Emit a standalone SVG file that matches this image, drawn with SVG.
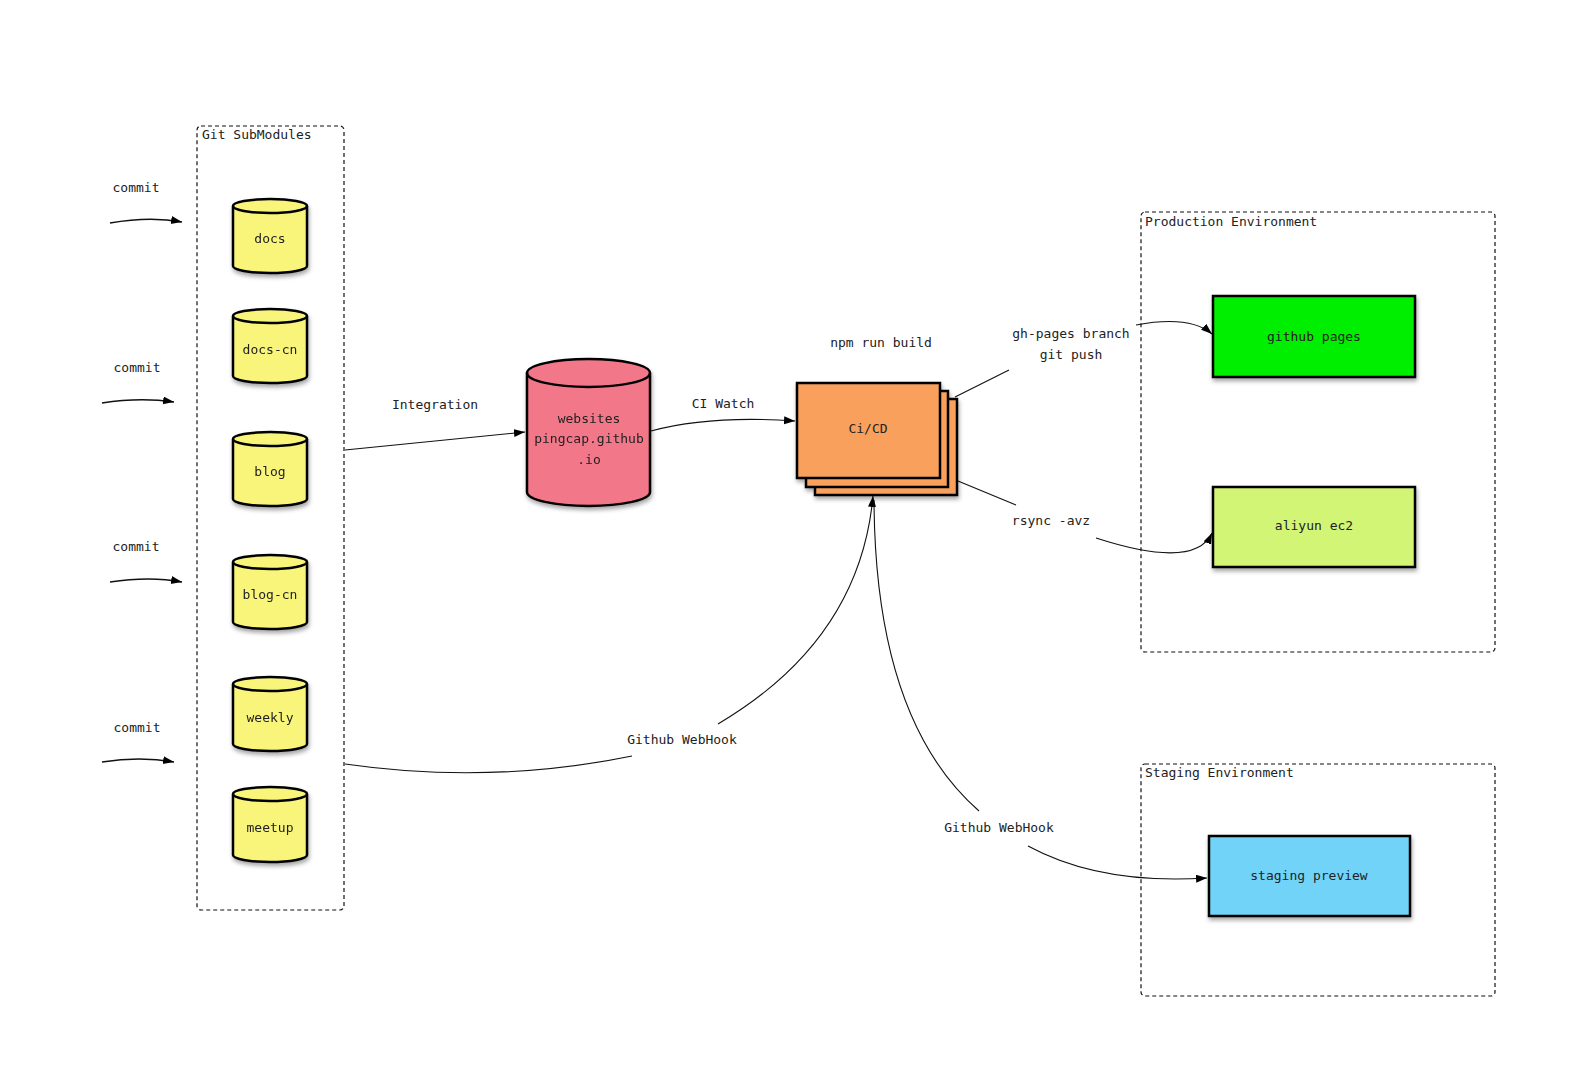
<svg xmlns="http://www.w3.org/2000/svg" width="1573" height="1071" viewBox="0 0 1573 1071">
<style>
text{font-family:"DejaVu Sans Mono","Liberation Mono",monospace;font-size:13px;fill:#222;}
.c{text-anchor:middle;}
.grp{fill:none;stroke:#111;stroke-width:1.2;stroke-dasharray:4 3;}
.cyl{fill:#f8f57a;stroke:#000;stroke-width:2.5;stroke-linejoin:round;}
.arc{fill:none;stroke:#000;stroke-width:2.5;}
.box{stroke:#000;stroke-width:2.5;}
.edge{fill:none;stroke:#111;stroke-width:1.1;}
.arr{marker-end:url(#ah);}
</style>
<defs>
<marker id="ah" markerUnits="userSpaceOnUse" markerWidth="12" markerHeight="10" refX="11" refY="4" orient="auto">
<path d="M0,0 L11,4 L0,8 Z" fill="#000"/>
</marker>
<filter id="sh" x="-20%" y="-20%" width="140%" height="140%">
<feDropShadow dx="1" dy="3" stdDeviation="2" flood-color="#000" flood-opacity="0.35"/>
</filter>
</defs>
<rect width="1573" height="1071" fill="#fff"/>

<g id="git-submodules">
<rect class="grp" x="197" y="126" width="147" height="784" rx="4"/>
<text x="202" y="139">Git SubModules</text>
</g>
<g id="production-env">
<rect class="grp" x="1141" y="212" width="354" height="440" rx="4"/>
<text x="1145" y="226">Production Environment</text>
</g>
<g id="staging-env">
<rect class="grp" x="1141" y="764" width="354" height="232" rx="4"/>
<text x="1145" y="777">Staging Environment</text>
</g>

<g id="docs" filter="url(#sh)">
<path class="cyl" d="M233,206 A37,7 0 0 1 307,206 L307,266 A37,7 0 0 1 233,266 Z"/>
<path class="arc" d="M233,206 A37,7 0 0 0 307,206"/>
<text class="c" x="270" y="243">docs</text>
</g>
<g id="docs-cn" filter="url(#sh)">
<path class="cyl" d="M233,316 A37,7 0 0 1 307,316 L307,376 A37,7 0 0 1 233,376 Z"/>
<path class="arc" d="M233,316 A37,7 0 0 0 307,316"/>
<text class="c" x="270" y="354">docs-cn</text>
</g>
<g id="blog" filter="url(#sh)">
<path class="cyl" d="M233,439 A37,7 0 0 1 307,439 L307,499 A37,7 0 0 1 233,499 Z"/>
<path class="arc" d="M233,439 A37,7 0 0 0 307,439"/>
<text class="c" x="270" y="476">blog</text>
</g>
<g id="blog-cn" filter="url(#sh)">
<path class="cyl" d="M233,562 A37,7 0 0 1 307,562 L307,622 A37,7 0 0 1 233,622 Z"/>
<path class="arc" d="M233,562 A37,7 0 0 0 307,562"/>
<text class="c" x="270" y="599">blog-cn</text>
</g>
<g id="weekly" filter="url(#sh)">
<path class="cyl" d="M233,684 A37,7 0 0 1 307,684 L307,744 A37,7 0 0 1 233,744 Z"/>
<path class="arc" d="M233,684 A37,7 0 0 0 307,684"/>
<text class="c" x="270" y="722">weekly</text>
</g>
<g id="meetup" filter="url(#sh)">
<path class="cyl" d="M233,794 A37,7 0 0 1 307,794 L307,855 A37,7 0 0 1 233,855 Z"/>
<path class="arc" d="M233,794 A37,7 0 0 0 307,794"/>
<text class="c" x="270" y="832">meetup</text>
</g>

<g id="websites" filter="url(#sh)">
<path class="cyl" style="fill:#f27789" d="M527,373 A61.5,14 0 0 1 650,373 L650,492 A61.5,14 0 0 1 527,492 Z"/>
<path class="arc" d="M527,373 A61.5,14 0 0 0 650,373"/>
<text class="c" x="589" y="423">websites</text>
<text class="c" x="589" y="443">pingcap.github</text>
<text class="c" x="589" y="464">.io</text>
</g>

<g id="cicd">
<g filter="url(#sh)">
<rect class="box" fill="#f9a05c" x="815" y="399" width="142" height="96"/>
<rect class="box" fill="#f9a05c" x="806" y="391" width="142" height="96"/>
<rect class="box" fill="#f9a05c" x="797" y="383" width="143" height="95"/>
</g>
<text class="c" x="868" y="433">Ci/CD</text>
<text class="c" x="881" y="347">npm run build</text>
</g>

<g id="github-pages">
<rect class="box" fill="#00ee00" filter="url(#sh)" x="1213" y="296" width="202" height="81"/>
<text class="c" x="1314" y="341">github pages</text>
</g>
<g id="aliyun-ec2">
<rect class="box" fill="#d2f576" filter="url(#sh)" x="1213" y="487" width="202" height="80"/>
<text class="c" x="1314" y="530">aliyun ec2</text>
</g>
<g id="staging-preview">
<rect class="box" fill="#72d3f9" filter="url(#sh)" x="1209" y="836" width="201" height="80"/>
<text class="c" x="1309" y="880">staging preview</text>
</g>

<g id="connectors">
<path class="edge arr" style="stroke-width:1.4" d="M110,223 Q150,216 182,222"/>
<path class="edge arr" style="stroke-width:1.4" d="M102,403 Q140,397 174,402"/>
<path class="edge arr" style="stroke-width:1.4" d="M110,582 Q150,576 182,582"/>
<path class="edge arr" style="stroke-width:1.4" d="M102,762 Q140,756 174,762"/>
<path class="edge arr" d="M345,450 L525,432"/>
<path class="edge arr" d="M651,431 Q710,415 795,421"/>
<path class="edge" d="M955,397 L1009,370"/>
<path class="edge arr" d="M1136,325 Q1190,315 1212,334"/>
<path class="edge" d="M958,481 L1016,505"/>
<path class="edge arr" d="M1096,538 Q1195,570 1212,533"/>
<path class="edge" d="M345,764 Q490,785 632,756"/>
<path class="edge arr" d="M718,724 Q860,640 873,496"/>
<path class="edge" d="M874,500 Q875,720 979,811"/>
<path class="edge arr" d="M1028,846 Q1100,885 1207,878"/>
</g>
<g id="labels">
<text class="c" x="136" y="192">commit</text>
<text class="c" x="137" y="372">commit</text>
<text class="c" x="136" y="551">commit</text>
<text class="c" x="137" y="732">commit</text>
<text class="c" x="435" y="409">Integration</text>
<text class="c" x="723" y="408">CI Watch</text>
<text class="c" x="1071" y="338">gh-pages branch</text>
<text class="c" x="1071" y="359">git push</text>
<text class="c" x="1051" y="525">rsync -avz</text>
<text class="c" x="682" y="744">Github WebHook</text>
<text class="c" x="999" y="832">Github WebHook</text>
</g>
</svg>
